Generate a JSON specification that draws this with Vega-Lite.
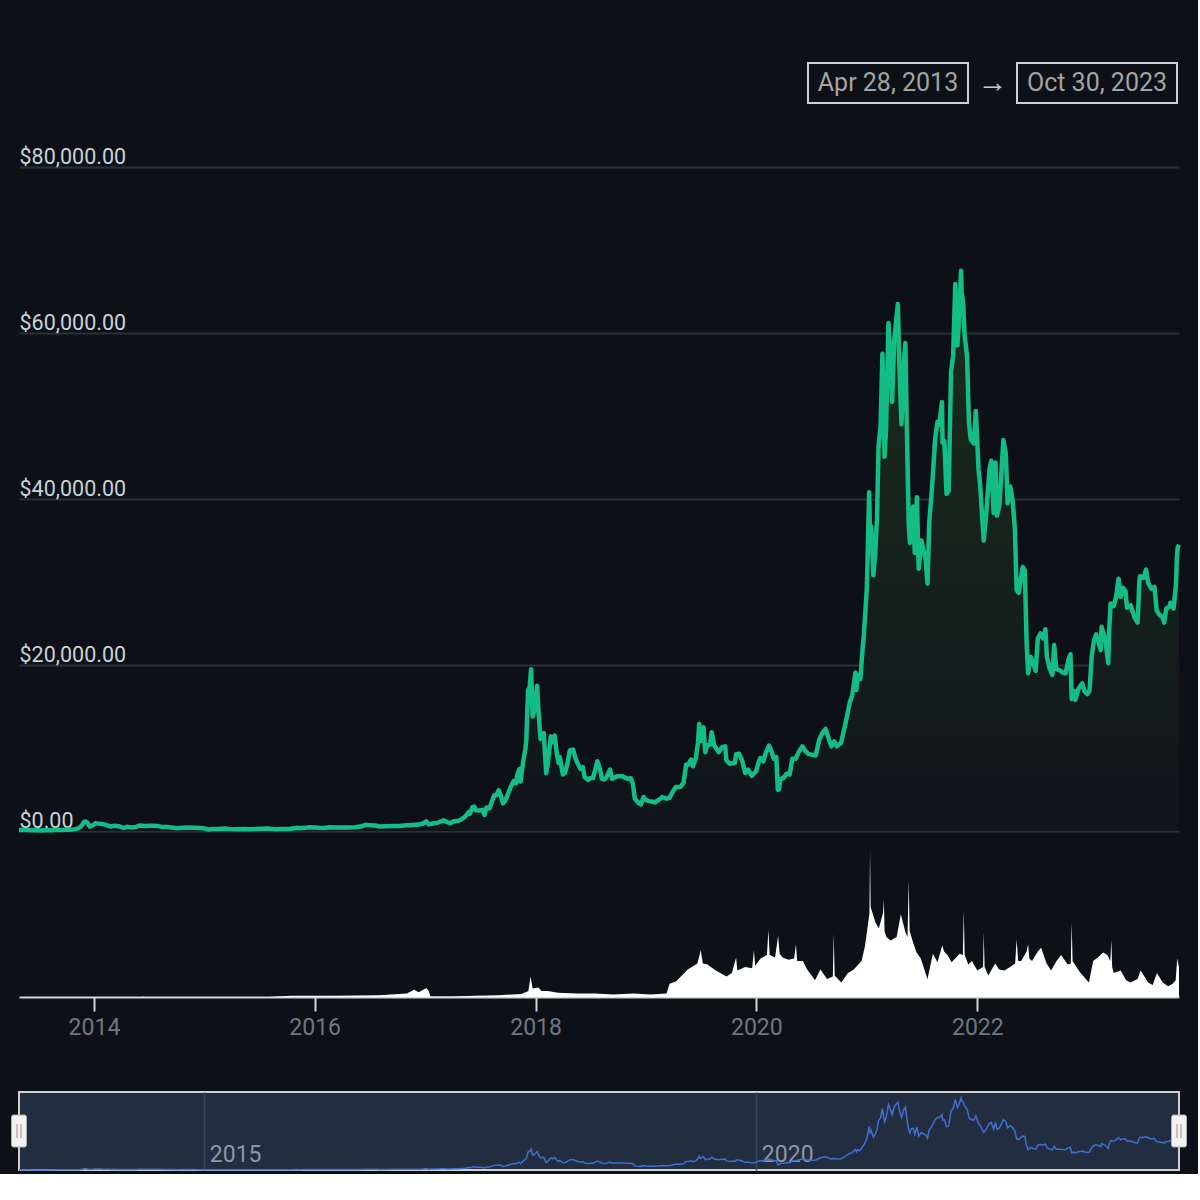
{
  "$schema": "https://vega.github.io/schema/vega-lite/v6.json",
  "description": "Bitcoin price and volume, Apr 2013 - Oct 2023, with range navigator",
  "background": "#0d1117",
  "padding": {"left": 10, "top": 62, "right": 10, "bottom": 0},
  "config": {
    "font": "Roboto",
    "view": {"stroke": null},
    "axis": {"labelFont": "Roboto", "titleFont": "Roboto"}
  },
  "datasets": {
    "price": [
      {"date": "2013-04-28", "close": 135}, {"date": "2013-05-12", "close": 115}, {"date": "2013-05-26", "close": 131},
      {"date": "2013-06-09", "close": 100}, {"date": "2013-06-23", "close": 108}, {"date": "2013-07-07", "close": 70},
      {"date": "2013-07-21", "close": 91}, {"date": "2013-08-04", "close": 105}, {"date": "2013-08-18", "close": 100},
      {"date": "2013-09-01", "close": 140}, {"date": "2013-09-15", "close": 128}, {"date": "2013-09-29", "close": 140},
      {"date": "2013-10-13", "close": 140}, {"date": "2013-10-27", "close": 195}, {"date": "2013-11-10", "close": 320},
      {"date": "2013-11-18", "close": 500}, {"date": "2013-11-24", "close": 800}, {"date": "2013-11-30", "close": 1130},
      {"date": "2013-12-04", "close": 1150}, {"date": "2013-12-10", "close": 1000}, {"date": "2013-12-18", "close": 520},
      {"date": "2013-12-24", "close": 660}, {"date": "2013-12-31", "close": 750},
      {"date": "2014-01-06", "close": 950}, {"date": "2014-01-20", "close": 860}, {"date": "2014-02-03", "close": 810},
      {"date": "2014-02-17", "close": 640}, {"date": "2014-02-25", "close": 535}, {"date": "2014-03-10", "close": 630},
      {"date": "2014-03-24", "close": 580}, {"date": "2014-04-10", "close": 360}, {"date": "2014-04-20", "close": 500},
      {"date": "2014-05-05", "close": 430}, {"date": "2014-05-20", "close": 490}, {"date": "2014-06-03", "close": 670},
      {"date": "2014-06-17", "close": 610}, {"date": "2014-07-01", "close": 640}, {"date": "2014-07-15", "close": 620},
      {"date": "2014-08-01", "close": 590}, {"date": "2014-08-18", "close": 470}, {"date": "2014-09-01", "close": 480},
      {"date": "2014-09-22", "close": 400}, {"date": "2014-10-05", "close": 320}, {"date": "2014-10-20", "close": 380},
      {"date": "2014-11-12", "close": 420}, {"date": "2014-11-30", "close": 380}, {"date": "2014-12-15", "close": 350},
      {"date": "2014-12-31", "close": 320},
      {"date": "2015-01-14", "close": 178}, {"date": "2015-01-28", "close": 230}, {"date": "2015-02-15", "close": 235},
      {"date": "2015-03-10", "close": 290}, {"date": "2015-03-25", "close": 247}, {"date": "2015-04-15", "close": 220},
      {"date": "2015-05-10", "close": 240}, {"date": "2015-06-01", "close": 222}, {"date": "2015-06-20", "close": 245},
      {"date": "2015-07-10", "close": 280}, {"date": "2015-07-30", "close": 290}, {"date": "2015-08-24", "close": 210},
      {"date": "2015-09-15", "close": 230}, {"date": "2015-10-10", "close": 245}, {"date": "2015-11-04", "close": 400},
      {"date": "2015-11-12", "close": 330}, {"date": "2015-11-30", "close": 378}, {"date": "2015-12-15", "close": 460},
      {"date": "2015-12-31", "close": 430},
      {"date": "2016-01-15", "close": 380}, {"date": "2016-02-01", "close": 375}, {"date": "2016-02-20", "close": 440},
      {"date": "2016-03-15", "close": 415}, {"date": "2016-04-15", "close": 430}, {"date": "2016-05-15", "close": 455},
      {"date": "2016-06-01", "close": 535}, {"date": "2016-06-17", "close": 750}, {"date": "2016-07-01", "close": 680},
      {"date": "2016-07-20", "close": 670}, {"date": "2016-08-02", "close": 540}, {"date": "2016-08-20", "close": 580},
      {"date": "2016-09-15", "close": 610}, {"date": "2016-10-10", "close": 615}, {"date": "2016-10-30", "close": 700},
      {"date": "2016-11-20", "close": 730}, {"date": "2016-12-10", "close": 770}, {"date": "2016-12-25", "close": 900},
      {"date": "2017-01-04", "close": 1150}, {"date": "2017-01-12", "close": 800}, {"date": "2017-01-25", "close": 900},
      {"date": "2017-02-10", "close": 1000}, {"date": "2017-02-24", "close": 1180}, {"date": "2017-03-03", "close": 1280},
      {"date": "2017-03-17", "close": 1030}, {"date": "2017-03-24", "close": 940}, {"date": "2017-04-07", "close": 1190},
      {"date": "2017-04-21", "close": 1240}, {"date": "2017-05-01", "close": 1420}, {"date": "2017-05-12", "close": 1700},
      {"date": "2017-05-25", "close": 2300}, {"date": "2017-05-28", "close": 2050}, {"date": "2017-06-06", "close": 2870},
      {"date": "2017-06-12", "close": 2950}, {"date": "2017-06-16", "close": 2500}, {"date": "2017-06-30", "close": 2480},
      {"date": "2017-07-08", "close": 2550}, {"date": "2017-07-16", "close": 1930}, {"date": "2017-07-22", "close": 2830},
      {"date": "2017-08-01", "close": 2720}, {"date": "2017-08-08", "close": 3400}, {"date": "2017-08-17", "close": 4300},
      {"date": "2017-08-24", "close": 4300}, {"date": "2017-09-01", "close": 4900}, {"date": "2017-09-08", "close": 4230},
      {"date": "2017-09-15", "close": 3320}, {"date": "2017-09-22", "close": 3630}, {"date": "2017-10-01", "close": 4400},
      {"date": "2017-10-12", "close": 5430}, {"date": "2017-10-20", "close": 6000}, {"date": "2017-10-28", "close": 5750},
      {"date": "2017-11-01", "close": 6750}, {"date": "2017-11-08", "close": 7450}, {"date": "2017-11-12", "close": 5950},
      {"date": "2017-11-20", "close": 8200}, {"date": "2017-11-28", "close": 9900}, {"date": "2017-12-01", "close": 10900},
      {"date": "2017-12-07", "close": 17000}, {"date": "2017-12-12", "close": 17300}, {"date": "2017-12-17", "close": 19500},
      {"date": "2017-12-22", "close": 13800}, {"date": "2017-12-28", "close": 14600},
      {"date": "2018-01-06", "close": 17500}, {"date": "2018-01-10", "close": 14600}, {"date": "2018-01-17", "close": 11100},
      {"date": "2018-01-21", "close": 11600}, {"date": "2018-01-28", "close": 11800}, {"date": "2018-02-01", "close": 9200},
      {"date": "2018-02-05", "close": 6950}, {"date": "2018-02-10", "close": 8100}, {"date": "2018-02-20", "close": 11400},
      {"date": "2018-02-27", "close": 10700}, {"date": "2018-03-05", "close": 11500}, {"date": "2018-03-12", "close": 9300},
      {"date": "2018-03-18", "close": 8200}, {"date": "2018-03-22", "close": 8900}, {"date": "2018-04-01", "close": 6800},
      {"date": "2018-04-08", "close": 7000}, {"date": "2018-04-16", "close": 8100}, {"date": "2018-04-24", "close": 9700},
      {"date": "2018-05-05", "close": 9800}, {"date": "2018-05-13", "close": 8700}, {"date": "2018-05-22", "close": 8000},
      {"date": "2018-05-29", "close": 7500}, {"date": "2018-06-06", "close": 7700}, {"date": "2018-06-12", "close": 6500},
      {"date": "2018-06-24", "close": 6150}, {"date": "2018-07-01", "close": 6400}, {"date": "2018-07-10", "close": 6400},
      {"date": "2018-07-17", "close": 7400}, {"date": "2018-07-24", "close": 8400}, {"date": "2018-08-01", "close": 7600},
      {"date": "2018-08-08", "close": 6300}, {"date": "2018-08-14", "close": 6200}, {"date": "2018-08-22", "close": 6400},
      {"date": "2018-09-04", "close": 7400}, {"date": "2018-09-11", "close": 6300}, {"date": "2018-09-20", "close": 6500},
      {"date": "2018-09-30", "close": 6600}, {"date": "2018-10-15", "close": 6600}, {"date": "2018-10-31", "close": 6300},
      {"date": "2018-11-12", "close": 6350}, {"date": "2018-11-19", "close": 5600}, {"date": "2018-11-25", "close": 3900},
      {"date": "2018-12-07", "close": 3400}, {"date": "2018-12-15", "close": 3200}, {"date": "2018-12-24", "close": 4100},
      {"date": "2018-12-31", "close": 3750},
      {"date": "2019-01-10", "close": 3600}, {"date": "2019-01-20", "close": 3550}, {"date": "2019-01-31", "close": 3450},
      {"date": "2019-02-08", "close": 3650}, {"date": "2019-02-19", "close": 3950}, {"date": "2019-02-24", "close": 4100},
      {"date": "2019-03-10", "close": 3900}, {"date": "2019-03-20", "close": 4000}, {"date": "2019-04-02", "close": 4900},
      {"date": "2019-04-10", "close": 5300}, {"date": "2019-04-25", "close": 5300}, {"date": "2019-05-05", "close": 5800},
      {"date": "2019-05-14", "close": 8000}, {"date": "2019-05-21", "close": 8000}, {"date": "2019-05-30", "close": 8600},
      {"date": "2019-06-05", "close": 7800}, {"date": "2019-06-15", "close": 8800}, {"date": "2019-06-22", "close": 10700},
      {"date": "2019-06-26", "close": 12900}, {"date": "2019-06-30", "close": 10800}, {"date": "2019-07-10", "close": 12500},
      {"date": "2019-07-16", "close": 9500}, {"date": "2019-07-22", "close": 10300}, {"date": "2019-08-01", "close": 10400},
      {"date": "2019-08-06", "close": 11900}, {"date": "2019-08-15", "close": 10300}, {"date": "2019-08-29", "close": 9500},
      {"date": "2019-09-10", "close": 10100}, {"date": "2019-09-20", "close": 10200}, {"date": "2019-09-24", "close": 8500},
      {"date": "2019-10-05", "close": 8100}, {"date": "2019-10-22", "close": 8200}, {"date": "2019-10-26", "close": 9250},
      {"date": "2019-11-05", "close": 9300}, {"date": "2019-11-15", "close": 8500}, {"date": "2019-11-25", "close": 7000},
      {"date": "2019-12-05", "close": 7400}, {"date": "2019-12-17", "close": 6650}, {"date": "2019-12-31", "close": 7200},
      {"date": "2020-01-07", "close": 8100}, {"date": "2020-01-14", "close": 8800}, {"date": "2020-01-24", "close": 8400},
      {"date": "2020-02-01", "close": 9400}, {"date": "2020-02-12", "close": 10300}, {"date": "2020-02-20", "close": 9600},
      {"date": "2020-02-28", "close": 8700}, {"date": "2020-03-07", "close": 8900}, {"date": "2020-03-12", "close": 4970},
      {"date": "2020-03-16", "close": 5000}, {"date": "2020-03-20", "close": 6200}, {"date": "2020-03-31", "close": 6400},
      {"date": "2020-04-10", "close": 6900}, {"date": "2020-04-20", "close": 6800}, {"date": "2020-04-29", "close": 8700},
      {"date": "2020-05-10", "close": 8700}, {"date": "2020-05-20", "close": 9500}, {"date": "2020-06-01", "close": 10200},
      {"date": "2020-06-10", "close": 9700}, {"date": "2020-06-20", "close": 9300}, {"date": "2020-07-01", "close": 9200},
      {"date": "2020-07-15", "close": 9100}, {"date": "2020-07-27", "close": 11000}, {"date": "2020-08-05", "close": 11700},
      {"date": "2020-08-17", "close": 12300}, {"date": "2020-08-25", "close": 11400}, {"date": "2020-09-05", "close": 10200},
      {"date": "2020-09-15", "close": 10800}, {"date": "2020-09-23", "close": 10200}, {"date": "2020-10-07", "close": 10600},
      {"date": "2020-10-21", "close": 12800}, {"date": "2020-11-05", "close": 15500}, {"date": "2020-11-13", "close": 16300},
      {"date": "2020-11-24", "close": 19100}, {"date": "2020-11-27", "close": 17000}, {"date": "2020-12-01", "close": 18800},
      {"date": "2020-12-10", "close": 18300}, {"date": "2020-12-16", "close": 21300}, {"date": "2020-12-22", "close": 23800},
      {"date": "2020-12-31", "close": 29000},
      {"date": "2021-01-03", "close": 32800}, {"date": "2021-01-08", "close": 40800}, {"date": "2021-01-12", "close": 34000},
      {"date": "2021-01-15", "close": 36700}, {"date": "2021-01-22", "close": 30800}, {"date": "2021-01-28", "close": 33400},
      {"date": "2021-02-03", "close": 37600}, {"date": "2021-02-08", "close": 46200}, {"date": "2021-02-15", "close": 48800},
      {"date": "2021-02-21", "close": 57500}, {"date": "2021-02-28", "close": 45100}, {"date": "2021-03-05", "close": 48400},
      {"date": "2021-03-13", "close": 61200}, {"date": "2021-03-18", "close": 58000}, {"date": "2021-03-25", "close": 51700},
      {"date": "2021-04-01", "close": 59000}, {"date": "2021-04-13", "close": 63500}, {"date": "2021-04-18", "close": 56200},
      {"date": "2021-04-25", "close": 49000}, {"date": "2021-05-03", "close": 56600}, {"date": "2021-05-08", "close": 58800},
      {"date": "2021-05-12", "close": 50000}, {"date": "2021-05-19", "close": 37000}, {"date": "2021-05-23", "close": 34700},
      {"date": "2021-05-27", "close": 38500}, {"date": "2021-06-03", "close": 39100}, {"date": "2021-06-08", "close": 33500},
      {"date": "2021-06-15", "close": 40200}, {"date": "2021-06-21", "close": 31600}, {"date": "2021-06-30", "close": 35000},
      {"date": "2021-07-07", "close": 33800}, {"date": "2021-07-14", "close": 32800}, {"date": "2021-07-20", "close": 29800},
      {"date": "2021-07-26", "close": 37300}, {"date": "2021-08-01", "close": 39900}, {"date": "2021-08-07", "close": 43000},
      {"date": "2021-08-14", "close": 47100}, {"date": "2021-08-22", "close": 49300}, {"date": "2021-08-28", "close": 48900},
      {"date": "2021-09-06", "close": 51700}, {"date": "2021-09-08", "close": 46800}, {"date": "2021-09-14", "close": 47000},
      {"date": "2021-09-21", "close": 40600}, {"date": "2021-09-28", "close": 41000}, {"date": "2021-10-06", "close": 55300},
      {"date": "2021-10-13", "close": 57300}, {"date": "2021-10-20", "close": 65900}, {"date": "2021-10-27", "close": 58500},
      {"date": "2021-11-01", "close": 61300}, {"date": "2021-11-08", "close": 67500}, {"date": "2021-11-10", "close": 65000},
      {"date": "2021-11-15", "close": 63600}, {"date": "2021-11-20", "close": 59700}, {"date": "2021-11-28", "close": 57200},
      {"date": "2021-12-04", "close": 49300}, {"date": "2021-12-10", "close": 47200}, {"date": "2021-12-20", "close": 46700},
      {"date": "2021-12-27", "close": 50600},
      {"date": "2022-01-05", "close": 43500}, {"date": "2022-01-10", "close": 41800}, {"date": "2022-01-22", "close": 35000},
      {"date": "2022-01-31", "close": 38500}, {"date": "2022-02-10", "close": 43500}, {"date": "2022-02-16", "close": 44600},
      {"date": "2022-02-24", "close": 38300}, {"date": "2022-03-02", "close": 44400}, {"date": "2022-03-07", "close": 38000},
      {"date": "2022-03-15", "close": 39300}, {"date": "2022-03-28", "close": 47100}, {"date": "2022-04-05", "close": 45500},
      {"date": "2022-04-11", "close": 39500}, {"date": "2022-04-20", "close": 41500}, {"date": "2022-04-28", "close": 39700},
      {"date": "2022-05-05", "close": 36500}, {"date": "2022-05-11", "close": 29000}, {"date": "2022-05-18", "close": 28700},
      {"date": "2022-05-31", "close": 31800}, {"date": "2022-06-07", "close": 31400}, {"date": "2022-06-13", "close": 22500},
      {"date": "2022-06-18", "close": 19000}, {"date": "2022-06-26", "close": 21000}, {"date": "2022-07-05", "close": 20200},
      {"date": "2022-07-13", "close": 19300}, {"date": "2022-07-20", "close": 23200}, {"date": "2022-07-29", "close": 23800},
      {"date": "2022-08-07", "close": 23200}, {"date": "2022-08-14", "close": 24300}, {"date": "2022-08-19", "close": 21000},
      {"date": "2022-08-28", "close": 19600}, {"date": "2022-09-06", "close": 18800}, {"date": "2022-09-12", "close": 22400},
      {"date": "2022-09-19", "close": 19500}, {"date": "2022-09-28", "close": 19400}, {"date": "2022-10-10", "close": 19100},
      {"date": "2022-10-20", "close": 19000}, {"date": "2022-10-29", "close": 20600}, {"date": "2022-11-05", "close": 21300},
      {"date": "2022-11-09", "close": 15900}, {"date": "2022-11-15", "close": 16900}, {"date": "2022-11-21", "close": 15800},
      {"date": "2022-12-01", "close": 17100}, {"date": "2022-12-14", "close": 17800}, {"date": "2022-12-22", "close": 16800},
      {"date": "2022-12-31", "close": 16500},
      {"date": "2023-01-07", "close": 16900}, {"date": "2023-01-14", "close": 20900}, {"date": "2023-01-21", "close": 22800},
      {"date": "2023-01-29", "close": 23700}, {"date": "2023-02-05", "close": 22900}, {"date": "2023-02-13", "close": 21800},
      {"date": "2023-02-16", "close": 24600}, {"date": "2023-02-28", "close": 23100}, {"date": "2023-03-10", "close": 20200},
      {"date": "2023-03-13", "close": 24200}, {"date": "2023-03-18", "close": 27400}, {"date": "2023-03-28", "close": 27100},
      {"date": "2023-04-05", "close": 28200}, {"date": "2023-04-13", "close": 30400}, {"date": "2023-04-20", "close": 28200},
      {"date": "2023-04-28", "close": 29300}, {"date": "2023-05-06", "close": 28900}, {"date": "2023-05-11", "close": 26900},
      {"date": "2023-05-23", "close": 27200}, {"date": "2023-06-05", "close": 25700}, {"date": "2023-06-15", "close": 25100},
      {"date": "2023-06-21", "close": 30100}, {"date": "2023-06-23", "close": 30700}, {"date": "2023-07-05", "close": 30500},
      {"date": "2023-07-13", "close": 31500}, {"date": "2023-07-20", "close": 29900}, {"date": "2023-07-31", "close": 29200},
      {"date": "2023-08-10", "close": 29400}, {"date": "2023-08-17", "close": 26600}, {"date": "2023-08-25", "close": 26100},
      {"date": "2023-09-05", "close": 25800}, {"date": "2023-09-11", "close": 25100}, {"date": "2023-09-18", "close": 26800},
      {"date": "2023-09-28", "close": 27000}, {"date": "2023-10-02", "close": 27500}, {"date": "2023-10-12", "close": 26800},
      {"date": "2023-10-20", "close": 29700}, {"date": "2023-10-23", "close": 33000}, {"date": "2023-10-26", "close": 34200},
      {"date": "2023-10-30", "close": 34500}
    ],
    "volume": [
      {"date": "2013-04-28", "volume": 0}, {"date": "2014-06-10", "volume": 0}, {"date": "2014-06-12", "volume": 0.6},
      {"date": "2014-06-14", "volume": 0}, {"date": "2015-08-01", "volume": 0}, {"date": "2015-10-15", "volume": 1},
      {"date": "2016-03-01", "volume": 1}, {"date": "2016-08-01", "volume": 1.5}, {"date": "2016-11-01", "volume": 3},
      {"date": "2016-11-25", "volume": 6}, {"date": "2016-12-10", "volume": 4}, {"date": "2017-01-05", "volume": 7.5},
      {"date": "2017-01-12", "volume": 5}, {"date": "2017-01-18", "volume": 0.5}, {"date": "2017-04-01", "volume": 0.5},
      {"date": "2017-06-15", "volume": 1}, {"date": "2017-09-01", "volume": 1.5}, {"date": "2017-11-15", "volume": 2.5},
      {"date": "2017-12-08", "volume": 5}, {"date": "2017-12-15", "volume": 17}, {"date": "2017-12-22", "volume": 7},
      {"date": "2018-01-10", "volume": 8}, {"date": "2018-01-20", "volume": 5}, {"date": "2018-02-10", "volume": 5},
      {"date": "2018-03-15", "volume": 3.5}, {"date": "2018-05-15", "volume": 3}, {"date": "2018-07-15", "volume": 3},
      {"date": "2018-09-15", "volume": 2}, {"date": "2018-11-20", "volume": 3}, {"date": "2019-01-15", "volume": 2},
      {"date": "2019-03-10", "volume": 3}, {"date": "2019-03-20", "volume": 11}, {"date": "2019-04-10", "volume": 13},
      {"date": "2019-05-19", "volume": 23}, {"date": "2019-06-20", "volume": 28}, {"date": "2019-07-01", "volume": 39},
      {"date": "2019-07-08", "volume": 28}, {"date": "2019-07-23", "volume": 27}, {"date": "2019-08-20", "volume": 22},
      {"date": "2019-09-24", "volume": 17}, {"date": "2019-10-12", "volume": 20}, {"date": "2019-10-26", "volume": 33},
      {"date": "2019-10-30", "volume": 22}, {"date": "2019-11-25", "volume": 25}, {"date": "2019-12-18", "volume": 24},
      {"date": "2019-12-24", "volume": 39}, {"date": "2019-12-28", "volume": 26}, {"date": "2020-01-15", "volume": 32},
      {"date": "2020-02-05", "volume": 35}, {"date": "2020-02-10", "volume": 56}, {"date": "2020-02-14", "volume": 35},
      {"date": "2020-03-03", "volume": 33}, {"date": "2020-03-13", "volume": 51}, {"date": "2020-03-18", "volume": 36},
      {"date": "2020-03-28", "volume": 33}, {"date": "2020-04-16", "volume": 31}, {"date": "2020-05-05", "volume": 32},
      {"date": "2020-05-11", "volume": 44}, {"date": "2020-05-15", "volume": 30}, {"date": "2020-06-03", "volume": 30},
      {"date": "2020-06-17", "volume": 23}, {"date": "2020-07-13", "volume": 14}, {"date": "2020-07-31", "volume": 23},
      {"date": "2020-08-22", "volume": 15}, {"date": "2020-09-10", "volume": 17}, {"date": "2020-09-13", "volume": 53},
      {"date": "2020-09-16", "volume": 18}, {"date": "2020-10-08", "volume": 12}, {"date": "2020-10-30", "volume": 20},
      {"date": "2020-11-18", "volume": 23}, {"date": "2020-12-14", "volume": 30}, {"date": "2020-12-25", "volume": 42},
      {"date": "2021-01-04", "volume": 60}, {"date": "2021-01-09", "volume": 70}, {"date": "2021-01-11", "volume": 123},
      {"date": "2021-01-13", "volume": 75}, {"date": "2021-01-29", "volume": 62}, {"date": "2021-02-09", "volume": 57},
      {"date": "2021-02-23", "volume": 70}, {"date": "2021-02-26", "volume": 81}, {"date": "2021-02-28", "volume": 55},
      {"date": "2021-03-06", "volume": 50}, {"date": "2021-03-20", "volume": 47}, {"date": "2021-04-09", "volume": 50},
      {"date": "2021-04-23", "volume": 69}, {"date": "2021-05-08", "volume": 54}, {"date": "2021-05-15", "volume": 50},
      {"date": "2021-05-19", "volume": 97}, {"date": "2021-05-22", "volume": 55}, {"date": "2021-06-03", "volume": 45},
      {"date": "2021-06-14", "volume": 37}, {"date": "2021-06-28", "volume": 32}, {"date": "2021-07-20", "volume": 15},
      {"date": "2021-08-07", "volume": 36}, {"date": "2021-08-22", "volume": 29}, {"date": "2021-09-07", "volume": 43},
      {"date": "2021-09-13", "volume": 38}, {"date": "2021-09-24", "volume": 35}, {"date": "2021-10-08", "volume": 29},
      {"date": "2021-11-03", "volume": 36}, {"date": "2021-11-14", "volume": 35}, {"date": "2021-11-17", "volume": 72},
      {"date": "2021-11-20", "volume": 35}, {"date": "2021-12-02", "volume": 27}, {"date": "2021-12-14", "volume": 30},
      {"date": "2022-01-01", "volume": 22}, {"date": "2022-01-20", "volume": 25}, {"date": "2022-01-22", "volume": 54},
      {"date": "2022-01-25", "volume": 25}, {"date": "2022-02-06", "volume": 18}, {"date": "2022-03-01", "volume": 28},
      {"date": "2022-03-14", "volume": 23}, {"date": "2022-04-01", "volume": 22}, {"date": "2022-04-19", "volume": 25},
      {"date": "2022-05-06", "volume": 28}, {"date": "2022-05-11", "volume": 48}, {"date": "2022-05-16", "volume": 30},
      {"date": "2022-05-26", "volume": 30}, {"date": "2022-06-13", "volume": 38}, {"date": "2022-06-18", "volume": 44},
      {"date": "2022-06-22", "volume": 32}, {"date": "2022-07-01", "volume": 30}, {"date": "2022-07-20", "volume": 38},
      {"date": "2022-07-31", "volume": 41}, {"date": "2022-08-18", "volume": 28}, {"date": "2022-09-02", "volume": 22},
      {"date": "2022-09-20", "volume": 30}, {"date": "2022-10-05", "volume": 35}, {"date": "2022-10-27", "volume": 27},
      {"date": "2022-11-06", "volume": 28}, {"date": "2022-11-09", "volume": 62}, {"date": "2022-11-12", "volume": 30},
      {"date": "2022-12-05", "volume": 21}, {"date": "2023-01-05", "volume": 12}, {"date": "2023-01-19", "volume": 30},
      {"date": "2023-02-03", "volume": 33}, {"date": "2023-02-21", "volume": 37}, {"date": "2023-03-07", "volume": 35},
      {"date": "2023-03-17", "volume": 30}, {"date": "2023-03-20", "volume": 48}, {"date": "2023-03-23", "volume": 25},
      {"date": "2023-03-28", "volume": 20}, {"date": "2023-04-20", "volume": 22}, {"date": "2023-05-08", "volume": 14},
      {"date": "2023-05-23", "volume": 12}, {"date": "2023-06-15", "volume": 15}, {"date": "2023-06-25", "volume": 22},
      {"date": "2023-07-20", "volume": 12}, {"date": "2023-08-04", "volume": 10}, {"date": "2023-08-18", "volume": 20},
      {"date": "2023-09-06", "volume": 12}, {"date": "2023-09-24", "volume": 9}, {"date": "2023-10-09", "volume": 11},
      {"date": "2023-10-19", "volume": 14}, {"date": "2023-10-24", "volume": 32}, {"date": "2023-10-30", "volume": 25}
    ]
  },
  "bounds": "flush",
  "spacing": 64,
  "vconcat": [
    {
      "width": 1160,
      "height": 40,
      "data": {
        "values": [
          {"part": "start", "label": "Apr 28, 2013"},
          {"part": "arrow", "label": "→"},
          {"part": "end", "label": "Oct 30, 2023"}
        ]
      },
      "encoding": {
        "x": {
          "field": "part",
          "type": "nominal",
          "scale": {"type": "point", "padding": 0, "domain": ["start", "arrow", "end"], "range": [869, 1078]},
          "axis": null
        }
      },
      "layer": [
        {
          "transform": [{"filter": "datum.part != 'arrow'"}],
          "mark": {"type": "bar", "width": 160, "fill": "#0d1117", "stroke": "#d0d0d0", "strokeWidth": 2}
        },
        {
          "mark": {"type": "text", "font": "Roboto", "baseline": "middle"},
          "encoding": {
            "text": {"field": "label"},
            "size": {"condition": {"test": "datum.part == 'arrow'", "value": 30}, "value": 25},
            "color": {"condition": {"test": "datum.part == 'arrow'", "value": "#c8c8c8"}, "value": "#a3a3a3"}
          }
        }
      ]
    },
    {
      "bounds": "flush",
      "spacing": 10,
      "vconcat": [
        {
          "width": 1160,
          "height": 664,
          "data": {"name": "price"},
          "encoding": {
            "x": {"field": "date", "type": "temporal", "axis": null},
            "y": {
              "field": "close",
              "type": "quantitative",
              "scale": {"domain": [0, 80000]},
              "axis": {
                "title": null,
                "values": [0, 20000, 40000, 60000, 80000],
                "format": "$,.2f",
                "domain": false,
                "ticks": false,
                "grid": true,
                "gridColor": "#2b3036",
                "gridWidth": 2,
                "labelAlign": "left",
                "labelBaseline": "alphabetic",
                "labelPadding": 0,
                "labelOffset": -4,
                "labelFontSize": 21.5,
                "labelColor": "#c9d1d9"
              }
            }
          },
          "layer": [
            {
              "mark": {
                "type": "area",
                "color": {
                  "gradient": "linear",
                  "x1": 0, "y1": 0, "x2": 0, "y2": 1,
                  "stops": [
                    {"offset": 0, "color": "#1c2e1f"},
                    {"offset": 1, "color": "#0f151a"}
                  ]
                }
              }
            },
            {
              "mark": {"type": "line", "color": "#14bd85", "strokeWidth": 4.5, "strokeJoin": "round"}
            }
          ]
        },
        {
          "bounds": "flush",
          "spacing": 95,
          "vconcat": [
            {
              "width": 1160,
              "height": 156,
              "data": {"name": "volume"},
              "mark": {"type": "area", "color": "#ffffff", "opacity": 1},
              "encoding": {
                "x": {
                  "field": "date",
                  "type": "temporal",
                  "axis": {
                    "title": null,
                    "format": "%Y",
                    "tickCount": {"interval": "year", "step": 2},
                    "grid": false,
                    "domainColor": "#d0d7de",
                    "domainWidth": 2,
                    "tickColor": "#d0d7de",
                    "tickWidth": 2,
                    "tickSize": 14,
                    "labelPadding": 5,
                    "labelFontSize": 23,
                    "labelColor": "#71777f"
                  }
                },
                "y": {
                  "field": "volume",
                  "type": "quantitative",
                  "scale": {"domain": [0, 130]},
                  "axis": null
                }
              }
            },
            {
              "width": 1160,
              "height": 78,
              "view": {"fill": "#232d40", "stroke": "#d0d0d0", "strokeWidth": 2},
              "layer": [
                {
                  "data": {"name": "price"},
                  "mark": {"type": "line", "color": "#3f6fd1", "strokeWidth": 1.5},
                  "encoding": {
                    "x": {
                      "field": "date",
                      "type": "temporal",
                      "axis": {
                        "title": null,
                        "values": [{"year": 2015, "month": 1, "date": 1}, {"year": 2020, "month": 1, "date": 1}],
                        "format": "%Y",
                        "domain": false,
                        "ticks": false,
                        "grid": true,
                        "gridColor": "#3a4458",
                        "gridWidth": 1.5,
                        "labelAlign": "left",
                        "labelBaseline": "bottom",
                        "labelPadding": -4,
                        "labelOffset": 5,
                        "labelFontSize": 23,
                        "labelColor": "#8e96a3",
                        "labelFlush": false
                      }
                    },
                    "y": {
                      "field": "close",
                      "type": "quantitative",
                      "scale": {"domain": [0, 73000]},
                      "axis": null
                    }
                  }
                },
                {
                  "data": {"values": [{"date": "2013-04-28"}, {"date": "2023-10-30"}]},
                  "mark": {"type": "tick", "thickness": 15, "size": 32, "color": "#f2f2f2", "stroke": "#b0b0b0", "strokeWidth": 1, "cornerRadius": 2, "opacity": 1},
                  "encoding": {"x": {"field": "date", "type": "temporal"}}
                },
                {
                  "data": {"values": [{"date": "2013-04-28"}, {"date": "2023-10-30"}]},
                  "mark": {"type": "text", "text": "||", "fontSize": 16, "color": "#a8a8a8", "baseline": "middle"},
                  "encoding": {"x": {"field": "date", "type": "temporal"}}
                }
              ]
            }
          ]
        }
      ]
    }
  ]
}
